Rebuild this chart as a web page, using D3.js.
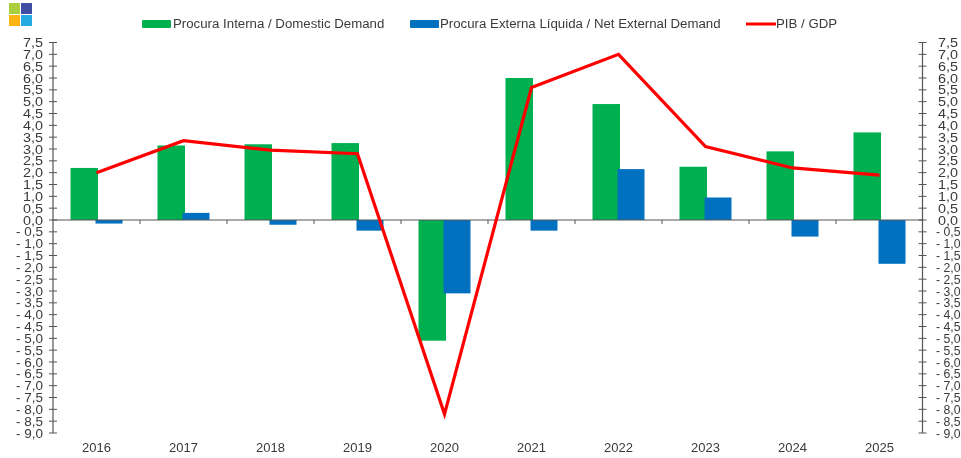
<!DOCTYPE html>
<html><head><meta charset="utf-8">
<script src="https://cdn.jsdelivr.net/npm/d3@7"></script>
<style>html,body{margin:0;padding:0;background:#fff;overflow:hidden}svg{display:block;filter:blur(0.35px)}text{font-family:"Liberation Sans",Arial,sans-serif;fill:#3a3a3a}</style>
</head><body><svg id="c" width="961" height="458"></svg>
<script>
const years=["2016","2017","2018","2019","2020","2021","2022","2023","2024","2025"];
const domestic=[2.2,3.15,3.2,3.25,-5.1,6.0,4.9,2.25,2.9,3.7];
const external=[-0.15,0.3,-0.2,-0.45,-3.1,-0.45,2.15,0.95,-0.7,-1.85];
const gdp=[2.0,3.35,2.95,2.8,-8.2,5.6,7.0,3.1,2.2,1.9];
const yTicks=[7.5,7,6.5,6,5.5,5,4.5,4,3.5,3,2.5,2,1.5,1,0.5,0,-0.5,-1,-1.5,-2,-2.5,-3,-3.5,-4,-4.5,-5,-5.5,-6,-6.5,-7,-7.5,-8,-8.5,-9];
const legendLabels=["Procura Interna / Domestic Demand","Procura Externa Líquida / Net External Demand","PIB / GDP"];
const colors={domestic:"#00b050",external:"#0070c0",gdp:"#ff0000"};
const logoColors=["#a9cf3c","#3f4ea3","#fdb515","#25aae1"];

const svg=d3.select("#c");
const x=d3.scaleBand().domain(years).range([53,923]);
const y=d3.scaleLinear().domain([-9,7.5]).range([433,42.5]);
const cx=d=>x(d)+x.bandwidth()/2;
const fmt=v=>(v<0?"- ":"")+Math.abs(v).toFixed(1).replace(".",",");

// logo
d3.range(4).forEach(i=>svg.append("rect").attr("x",9+(i%2)*12).attr("y",3+Math.floor(i/2)*12)
  .attr("width",11).attr("height",11).attr("fill",logoColors[i]));

// bars: the blue bar slightly overlaps the green one
svg.append("g").selectAll("rect").data(years).join("rect")
  .attr("x",d=>cx(d)-26).attr("width",27.5)
  .attr("y",(d,i)=>y(Math.max(0,domestic[i])))
  .attr("height",(d,i)=>Math.abs(y(domestic[i])-y(0))).attr("fill",colors.domestic);
svg.append("g").selectAll("rect").data(years).join("rect")
  .attr("x",d=>cx(d)-1).attr("width",27)
  .attr("y",(d,i)=>y(Math.max(0,external[i])))
  .attr("height",(d,i)=>Math.abs(y(external[i])-y(0))).attr("fill",colors.external);

// axes
const axisCol="#555";
function yAxis(px,right){
  const g=svg.append("g");
  g.append("line").attr("x1",px).attr("x2",px).attr("y1",y(7.5)).attr("y2",y(-9)).attr("stroke",axisCol).attr("stroke-width",1.2);
  g.selectAll("line.t").data(yTicks).join("line").attr("class","t")
    .attr("x1",px-4).attr("x2",px+4).attr("y1",d=>y(d)).attr("y2",d=>y(d)).attr("stroke",axisCol).attr("stroke-width",1);
  g.selectAll("text").data(yTicks).join("text")
    .attr("x",d=>right?(d<0?936:938):43).attr("y",d=>y(d)+4.5)
    .attr("text-anchor",right?"start":"end")
    .attr("font-size",13)
    .attr("textLength",d=>d<0?(right?24.5:27):20)
    .attr("lengthAdjust","spacingAndGlyphs")
    .text(fmt);
}
yAxis(53,false);
yAxis(922.5,true);
svg.append("line").attr("x1",53).attr("x2",922.5).attr("y1",y(0)).attr("y2",y(0)).attr("stroke",axisCol).attr("stroke-width",1);
svg.append("g").selectAll("line").data(d3.range(1,10)).join("line")
  .attr("x1",i=>53+i*x.step()).attr("x2",i=>53+i*x.step()).attr("y1",y(0)).attr("y2",y(0)+4).attr("stroke",axisCol);
svg.append("g").selectAll("text").data(years).join("text")
  .attr("x",cx).attr("y",452).attr("text-anchor","middle").attr("font-size",13).text(d=>d);

// line
svg.append("path").datum(gdp)
  .attr("d",d3.line().x((d,i)=>cx(years[i])).y(d=>y(d)))
  .attr("fill","none").attr("stroke",colors.gdp).attr("stroke-width",3.2);

// legend
const lg=svg.append("g");
lg.append("rect").attr("x",142).attr("y",20).attr("width",29).attr("height",8).attr("rx",1).attr("fill",colors.domestic);
lg.append("text").attr("x",173).attr("y",28).attr("font-size",13.25).text(legendLabels[0]);
lg.append("rect").attr("x",410).attr("y",20).attr("width",29).attr("height",8).attr("rx",1).attr("fill",colors.external);
lg.append("text").attr("x",440).attr("y",28).attr("font-size",13.25).text(legendLabels[1]);
lg.append("line").attr("x1",746).attr("x2",776).attr("y1",24).attr("y2",24).attr("stroke",colors.gdp).attr("stroke-width",3);
lg.append("text").attr("x",776).attr("y",28).attr("font-size",13.25).text(legendLabels[2]);
</script></body></html>
